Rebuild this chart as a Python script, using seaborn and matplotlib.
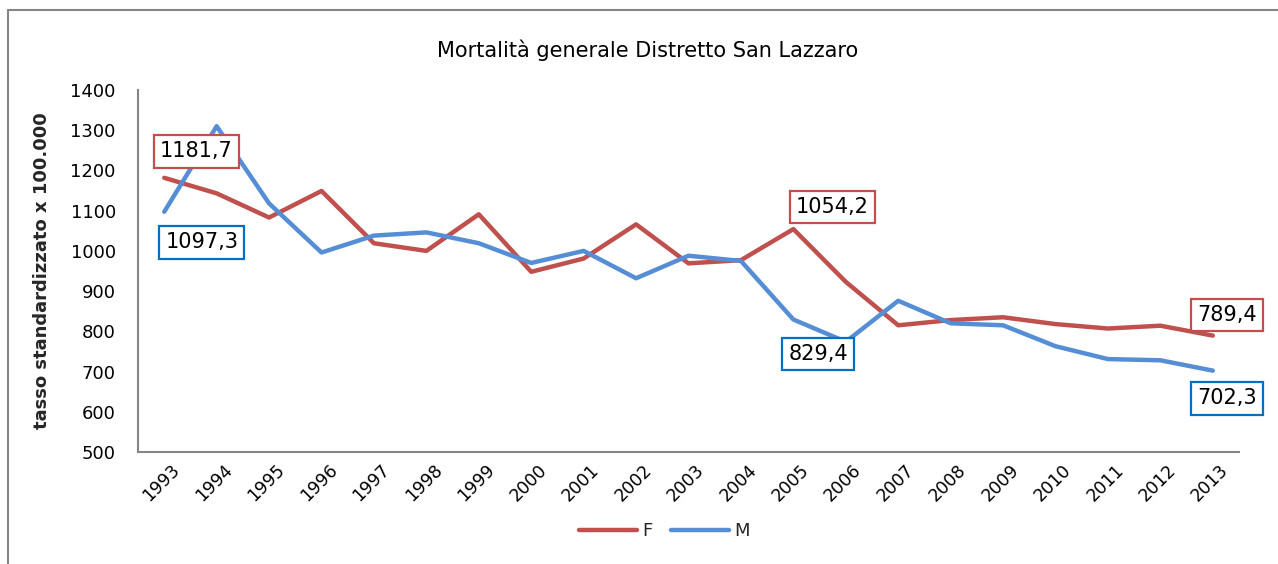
import matplotlib
matplotlib.use("Agg")
import matplotlib.pyplot as plt
import matplotlib.transforms as mtransforms
from matplotlib.lines import Line2D
import seaborn as sns
import pandas as pd

years = list(range(1993, 2014))
f_values = [1181.7, 1143, 1083, 1149, 1019, 1000, 1091, 948, 981, 1066, 969, 977,
            1054.2, 923, 815, 828, 835, 818, 807, 814, 789.4]
m_values = [1097.3, 1310, 1118, 996, 1038, 1046, 1019, 970, 1000, 932, 988, 975,
            829.4, 774, 876, 820, 815, 763, 731, 728, 702.3]
series_names = ["F", "M"]
title = "Mortalità generale Distretto San Lazzaro"
ylabel = "tasso standardizzato x 100.000"
yticks = [500, 600, 700, 800, 900, 1000, 1100, 1200, 1300, 1400]
# labelled points: (series, year, value, label)
labels = [("F", 1993, 1181.7, "1181,7"), ("M", 1993, 1097.3, "1097,3"),
          ("F", 2005, 1054.2, "1054,2"), ("M", 2005, 829.4, "829,4"),
          ("F", 2013, 789.4, "789,4"), ("M", 2013, 702.3, "702,3")]

df = pd.DataFrame({
    "anno": years * 2,
    "tasso": f_values + m_values,
    "sesso": ["F"] * len(years) + ["M"] * len(years),
})

sns.set_theme(style="white")
plt.rcParams["font.family"] = ["DejaVu Sans"]

line_colors = {"F": "#C0504D", "M": "#558ED5"}
box_colors = {"F": "#C0504D", "M": "#0070C0"}

fig = plt.figure(figsize=(12.78, 5.64), dpi=100)
ax = fig.add_axes([0.108, 0.1986, 0.8615, 0.6418])

sns.lineplot(data=df, x="anno", y="tasso", hue="sesso", palette=line_colors,
             linewidth=3.2, ax=ax, legend=False, sort=False)

ax.set_xlim(years[0] - 0.5, years[-1] + 0.5)
ax.set_ylim(yticks[0], yticks[-1])
ax.set_yticks(yticks)
ax.set_yticklabels([str(v) for v in yticks], fontsize=13, color="black")
ax.set_xticks(years)
ax.set_xticklabels([str(y) for y in years], fontsize=12.5, rotation=45,
                   ha="right", va="center", rotation_mode="anchor", color="black")
ax.set_xticks([y - 0.5 for y in years] + [years[-1] + 0.5], minor=True)
ax.tick_params(axis="x", which="major", length=0, pad=11)
ax.tick_params(axis="x", which="minor", length=6, width=1.2, color="#868686", direction="out")
ax.tick_params(axis="y", which="major", length=6, width=1.2, color="#868686",
               direction="out", pad=10)
offset = mtransforms.ScaledTranslation(13 / 100, 0, fig.dpi_scale_trans)
for lab in ax.get_xticklabels():
    lab.set_transform(lab.get_transform() + offset)

for side in ["top", "right"]:
    ax.spines[side].set_visible(False)
for side in ["left", "bottom"]:
    ax.spines[side].set_color("#868686")
    ax.spines[side].set_linewidth(1.5)

ax.set_xlabel("")
ax.set_ylabel(ylabel, fontsize=13, fontweight="bold", labelpad=12)
ax.yaxis.set_label_coords(-0.079, 0.5)

offsets = {("F", 1993): (23, 19), ("M", 1993): (27, -22), ("F", 2005): (28, 16),
           ("M", 2005): (18, -25), ("F", 2013): (10, 15), ("M", 2013): (10, -20)}
for s, yr, val, txt in labels:
    ax.annotate(txt, xy=(yr, val), xytext=offsets[(s, yr)], textcoords="offset points",
                ha="center", va="center", fontsize=15, color="black",
                bbox=dict(boxstyle="square,pad=0.3", fc="white", ec=box_colors[s], lw=1.6),
                annotation_clip=False, zorder=5)

fig.text(0.507, 0.911, title, ha="center", va="center", fontsize=15, color="black",
         fontweight="medium")

handles = [Line2D([0], [0], color=line_colors[n], lw=3.2) for n in series_names]
fig.legend(handles, series_names, loc="center", bbox_to_anchor=(0.52, 0.058), ncol=2,
           frameon=False, fontsize=13, handlelength=3.2, columnspacing=1.0, handletextpad=0.3)

# outer chart border (top and left visible)
fig.add_artist(Line2D([8 / 1278, 1.0], [1 - 10 / 564, 1 - 10 / 564], transform=fig.transFigure,
                      color="#868686", lw=1.5))
fig.add_artist(Line2D([8 / 1278, 8 / 1278], [0.0, 1 - 10 / 564], transform=fig.transFigure,
                      color="#868686", lw=1.5))

fig.savefig("out.png", dpi=100)
